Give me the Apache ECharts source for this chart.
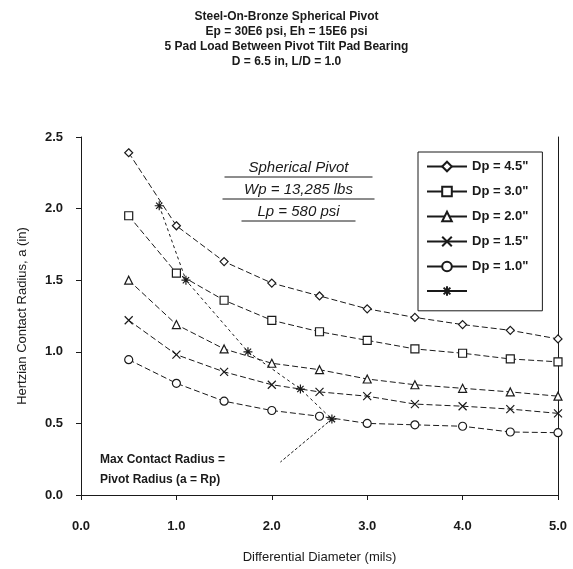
<!DOCTYPE html>
<html>
<head>
<meta charset="utf-8">
<script src="https://cdn.jsdelivr.net/npm/echarts@6/dist/echarts.min.js"></script>
<style>
  html, body { margin: 0; padding: 0; background: #fff; }
  #chart { width: 573px; height: 569px; }
</style>
</head>
<body>
<div id="chart"></div>
<script>
// differential diameter (mils)
const diam = [0.5, 1.0, 1.5, 2.0, 2.5, 3.0, 3.5, 4.0, 4.5, 5.0];
// hertzian contact radius a (in) for each pivot diameter
const dp45 = [2.39, 1.88, 1.63, 1.48, 1.39, 1.30, 1.24, 1.19, 1.15, 1.09];
const dp30 = [1.95, 1.55, 1.36, 1.22, 1.14, 1.08, 1.02, 0.99, 0.95, 0.93];
const dp20 = [1.50, 1.19, 1.02, 0.92, 0.875, 0.81, 0.77, 0.745, 0.72, 0.69];
const dp15 = [1.22, 0.98, 0.86, 0.77, 0.72, 0.69, 0.635, 0.62, 0.60, 0.57];
const dp10 = [0.945, 0.78, 0.655, 0.59, 0.55, 0.50, 0.49, 0.48, 0.44, 0.435];
// max contact radius = pivot radius line
const maxX = [0.82, 1.1, 1.75, 2.3, 2.63];
const maxY = [2.02, 1.50, 1.00, 0.74, 0.53];
// leader from note to the end of that line
const leaderX = [2.63, 2.09];
const leaderY = [0.53, 0.23];

const titleLines = [
  "Steel-On-Bronze Spherical Pivot",
  "Ep = 30E6 psi, Eh = 15E6 psi",
  "5 Pad Load Between Pivot Tilt Pad Bearing",
  "D = 6.5 in, L/D = 1.0"
];
const noteLines = ["Spherical Pivot", "Wp = 13,285 lbs", "Lp = 580 psi"];

const font = "Liberation Sans, Arial, sans-serif";
const ink = "#1a1a1a";
const xMark = "path://M0,0L10,10M10,0L0,10";
const starMark = "path://M5,0L5,10M0,5L10,5M1.5,1.5L8.5,8.5M8.5,1.5L1.5,8.5";

function pairs(xs, ys) {
  return xs.map((x, i) => [x, ys[i]]);
}

function curve(name, ys, symbol) {
  return {
    name: name,
    type: "line",
    data: pairs(diam, ys),
    symbol: symbol,
    symbolSize: 8,
    lineStyle: { color: ink, width: 1, type: [6, 3] },
    itemStyle: { color: "#fff", borderColor: ink, borderWidth: 1.2 },
    z: 3
  };
}

const chart = echarts.init(document.getElementById("chart"));
chart.setOption({
  animation: false,
  textStyle: { fontFamily: font },
  grid: { left: 81, right: 15, top: 137, bottom: 69 },
  xAxis: {
    type: "value",
    min: 0,
    max: 5,
    interval: 1,
    name: "Differential Diameter (mils)",
    nameLocation: "middle",
    nameGap: 56,
    nameTextStyle: { color: ink, fontSize: 13, fontFamily: font },
    axisLine: { lineStyle: { color: ink, width: 1 } },
    axisTick: { length: 5, lineStyle: { color: ink } },
    axisLabel: {
      color: ink, fontSize: 13, fontWeight: "bold", margin: 25,
      formatter: (v) => v.toFixed(1)
    },
    splitLine: { show: false }
  },
  yAxis: [
    {
      type: "value",
      min: 0,
      max: 2.5,
      interval: 0.5,
      name: "Hertzian Contact Radius, a (in)",
      nameLocation: "middle",
      nameGap: 52,
      nameTextStyle: { color: ink, fontSize: 13, fontFamily: font },
      axisLine: { show: true, lineStyle: { color: ink, width: 1 } },
      axisTick: { show: true, length: 5, lineStyle: { color: ink } },
      axisLabel: {
        color: ink, fontSize: 13, fontWeight: "bold", margin: 18,
        formatter: (v) => v.toFixed(1)
      },
      splitLine: { show: false }
    },
    {
      type: "value",
      min: 0,
      max: 2.5,
      position: "right",
      axisLine: { show: true, lineStyle: { color: ink, width: 1 } },
      axisTick: { show: false },
      axisLabel: { show: false },
      splitLine: { show: false }
    }
  ],
  legend: {
    orient: "vertical",
    left: 418,
    top: 152,
    width: 132,
    height: 150,
    padding: [8, 14, 14, 8],
    itemWidth: 40,
    itemHeight: 12,
    itemGap: 12,
    borderColor: ink,
    borderWidth: 1,
    lineStyle: { type: "solid" },
    textStyle: { color: ink, fontSize: 13, fontWeight: "bold", fontFamily: font },
    formatter: (n) => (n === "a = Rp" ? "" : n),
    data: ["Dp = 4.5\"", "Dp = 3.0\"", "Dp = 2.0\"", "Dp = 1.5\"", "Dp = 1.0\"", "a = Rp"]
  },
  graphic: [
    {
      type: "text",
      left: "center",
      top: 9,
      style: {
        text: titleLines.join("\n"),
        font: "bold 12px " + font,
        lineHeight: 15,
        fill: ink,
        textAlign: "center"
      }
    },
    {
      type: "group",
      left: 220,
      top: 160,
      children: noteLines.map((t, i) => ({
        type: "text",
        x: 76,
        y: i * 22,
        style: {
          text: t,
          font: "italic 15px " + font,
          fill: ink,
          textAlign: "center"
        }
      })).concat([
        { type: "line", shape: { x1: 2, y1: 17, x2: 150, y2: 17 }, style: { stroke: ink, lineWidth: 1 } },
        { type: "line", shape: { x1: 0, y1: 39, x2: 152, y2: 39 }, style: { stroke: ink, lineWidth: 1 } },
        { type: "line", shape: { x1: 19, y1: 61, x2: 133, y2: 61 }, style: { stroke: ink, lineWidth: 1 } }
      ])
    },
    {
      type: "text",
      left: 100,
      top: 450,
      style: {
        text: "Max Contact Radius =\nPivot Radius (a = Rp)",
        font: "bold 12px " + font,
        lineHeight: 20,
        fill: ink
      }
    }
  ],
  series: [
    curve("Dp = 4.5\"", dp45, "diamond"),
    curve("Dp = 3.0\"", dp30, "rect"),
    curve("Dp = 2.0\"", dp20, "triangle"),
    curve("Dp = 1.5\"", dp15, xMark),
    curve("Dp = 1.0\"", dp10, "circle"),
    {
      name: "a = Rp",
      type: "line",
      data: pairs(maxX, maxY),
      symbol: starMark,
      symbolSize: 9,
      lineStyle: { color: ink, width: 1, type: [3, 3] },
      itemStyle: { color: "#fff", borderColor: ink, borderWidth: 1.2 },
      z: 4
    },
    {
      name: "leader",
      type: "line",
      data: pairs(leaderX, leaderY),
      symbol: "none",
      lineStyle: { color: ink, width: 1, type: [3, 2] },
      z: 2
    }
  ]
});
</script>
</body>
</html>
